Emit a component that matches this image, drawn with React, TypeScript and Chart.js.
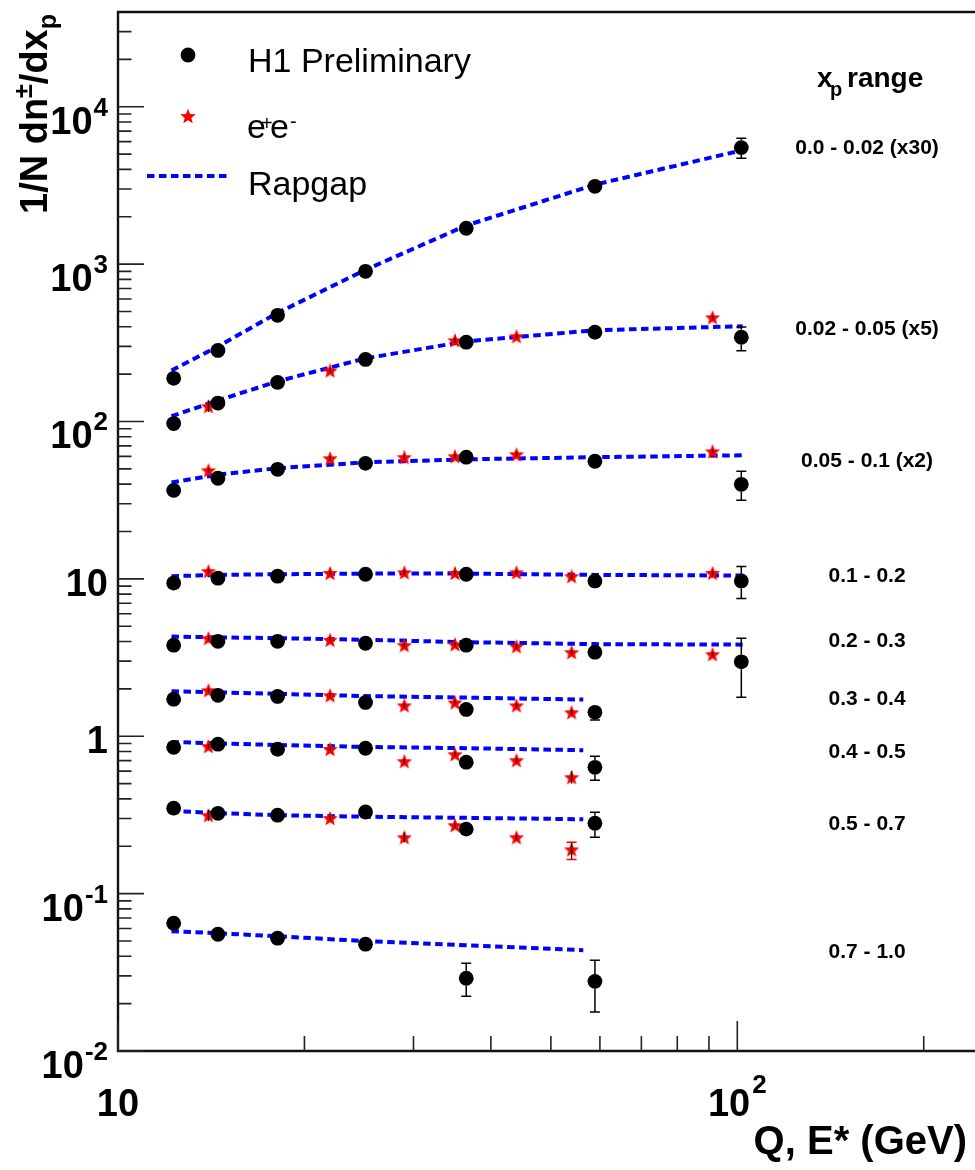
import React, { useEffect, useRef } from "react";
import { Chart, registerables } from "chart.js";
Chart.register(...registerables);

// ---------- data ----------
const h1Q = [12.3, 14.5, 18.1, 25.1, 36.5, 58.9, 101.5];
const eeE = [14, 22, 29, 35, 44, 54, 91.2];
const rapQLong = [12.2, 14.5, 18.1, 25.1, 36.5, 58.9, 102];
const rapQShort = [12.2, 14.5, 18.1, 25.1, 36.5, 56.4];

const binLabels = [
  "0.0 - 0.02 (x30)",
  "0.02 - 0.05 (x5)",
  "0.05 - 0.1 (x2)",
  "0.1 - 0.2",
  "0.2 - 0.3",
  "0.3 - 0.4",
  "0.4 - 0.5",
  "0.5 - 0.7",
  "0.7 - 1.0",
];
const binLabelY = [5500, 390, 56.7, 10.5, 4.07, 1.74, 0.8, 0.28, 0.043];
const binLabelQ = 162;

const h1Values = [
  [188, 283, 473, 900, 1690, 3120, 5500],
  [97, 131, 177, 248, 319, 369, 343],
  [36.5, 43.6, 49.7, 54.2, 59.3, 55.9, 39.9],
  [9.4, 10.1, 10.4, 10.7, 10.7, 9.7, 9.7],
  [3.79, 4.01, 4.01, 3.9, 3.79, 3.42, 2.97],
  [1.72, 1.82, 1.79, 1.64, 1.48, 1.42, null],
  [0.851, 0.89, 0.827, 0.839, 0.684, 0.635, null],
  [0.349, 0.324, 0.315, 0.33, 0.257, 0.28, null],
  [0.0649, 0.0552, 0.0521, 0.0477, 0.029, 0.0277, null],
];
const h1ErrLow = [
  [null, null, null, null, null, null, 4700],
  [null, null, null, null, null, null, 282],
  [null, null, null, null, null, null, 31.6],
  [null, null, null, null, null, null, 7.5],
  [null, null, null, null, null, null, 1.77],
  [null, null, null, null, null, 1.27, null],
  [null, null, null, null, null, 0.526, null],
  [null, null, null, null, null, 0.228, null],
  [null, null, null, null, 0.0223, 0.0177, null],
];
const h1ErrHigh = [
  [null, null, null, null, null, null, 6300],
  [null, null, null, null, null, null, 398],
  [null, null, null, null, null, null, 48.3],
  [null, null, null, null, null, null, 12.0],
  [null, null, null, null, null, null, 4.2],
  [null, null, null, null, null, 1.55, null],
  [null, null, null, null, null, 0.746, null],
  [null, null, null, null, null, 0.329, null],
  [null, null, null, null, 0.0361, 0.0377, null],
];

const eeValues = [
  [null, null, null, null, null, null, null],
  [125, 211, null, 328, 348, null, 459],
  [49, 58.4, 59.3, 60.1, 61.9, null, 64.6],
  [11.2, 10.9, 11.0, 10.9, 11.0, 10.4, 10.9],
  [4.2, 4.1, 3.79, 3.84, 3.73, 3.42, 3.32],
  [1.96, 1.82, 1.57, 1.64, 1.57, 1.42, null],
  [0.864, 0.83, 0.694, 0.768, 0.704, 0.549, null],
  [0.315, 0.302, 0.228, 0.272, 0.228, 0.191, null],
  [null, null, null, null, null, null, null],
];
const eeErrLow = [
  [null, null, null, null, null, null, null],
  [115, 204, null, 318, 337, null, 445],
  [47.5, 56.5, 57.5, 58.3, 60, null, 62.6],
  [10.85, 10.55, 10.65, 10.55, 10.65, 10.05, 10.55],
  [4.07, 3.97, 3.67, 3.72, 3.61, 3.31, 3.22],
  [1.9, 1.76, 1.52, 1.59, 1.52, 1.37, null],
  [0.837, 0.804, 0.672, 0.744, 0.682, 0.5, null],
  [0.29, 0.292, 0.212, 0.263, 0.22, 0.165, null],
  [null, null, null, null, null, null, null],
];
const eeErrHigh = [
  [null, null, null, null, null, null, null],
  [136, 218, null, 338, 359, null, 473],
  [50.5, 60.2, 61.1, 62, 63.8, null, 66.6],
  [11.55, 11.25, 11.35, 11.25, 11.35, 10.75, 11.25],
  [4.33, 4.23, 3.91, 3.96, 3.85, 3.53, 3.42],
  [2.02, 1.88, 1.62, 1.69, 1.62, 1.47, null],
  [0.891, 0.856, 0.716, 0.792, 0.726, 0.6, null],
  [0.34, 0.312, 0.245, 0.281, 0.236, 0.212, null],
  [null, null, null, null, null, null, null],
];

const rapValues = [
  [211, 300, 490, 920, 1760, 3200, 5300],
  [108, 136, 180, 252, 323, 380, 403],
  [41, 46, 50.5, 55, 57.5, 59.3, 61],
  [10.4, 10.6, 10.7, 10.8, 10.8, 10.6, 10.5],
  [4.3, 4.25, 4.2, 4.1, 3.96, 3.85, 3.82],
  [1.93, 1.9, 1.86, 1.8, 1.76, 1.71],
  [0.92, 0.9, 0.88, 0.855, 0.84, 0.815],
  [0.335, 0.325, 0.315, 0.308, 0.303, 0.297],
  [0.0577, 0.056, 0.0536, 0.0499, 0.047, 0.0437],
];

const yTickValues = [0.01, 0.1, 1, 10, 100, 1000, 10000];
const yTickBase = ["10", "10", "1", "10", "10", "10", "10"];
const yTickExp = ["-2", "-1", "", "", "2", "3", "4"];
const xTickValues = [10, 100];
const xTickBase = ["10", "10"];
const xTickExp = ["", "2"];
const xMinorTicks = [20, 30, 40, 50, 60, 70, 80, 90, 200];

// ---------- styling ----------
const FONT = '"Liberation Sans", Arial, Helvetica, sans-serif';
const DOT_R = 7.4;
const STAR_R = 8;
const STAR_IN = 3.5;

function starPath(ctx: CanvasRenderingContext2D, x: number, y: number, R: number, r: number) {
  ctx.beginPath();
  for (let i = 0; i < 10; i++) {
    const rad = i % 2 === 0 ? R : r;
    const a = -Math.PI / 2 + (i * Math.PI) / 5;
    ctx.lineTo(x + rad * Math.cos(a), y + 0.8 + rad * Math.sin(a));
  }
  ctx.closePath();
}

function makeStar(R: number, r: number, color: string) {
  const c = document.createElement("canvas");
  const s = Math.ceil(R * 2 + 2);
  c.width = s;
  c.height = s;
  const g = c.getContext("2d")!;
  starPath(g, s / 2, s / 2, R, r);
  g.fillStyle = color;
  g.fill();
  return c;
}

const decorPlugin = {
  id: "decor",
  afterDatasetsDraw(chart: any) {
    const ctx: CanvasRenderingContext2D = chart.ctx;
    const xs = chart.scales.x;
    const ys = chart.scales.y;
    ctx.save();
    ctx.strokeStyle = "#000";
    ctx.lineWidth = 1.5;
    h1Values.forEach((vals, i) => {
      vals.forEach((v, j) => {
        const lo = h1ErrLow[i][j];
        const hi = h1ErrHigh[i][j];
        if (v == null || lo == null || hi == null) return;
        const x = xs.getPixelForValue(h1Q[j]);
        const yc = ys.getPixelForValue(v);
        const yh = ys.getPixelForValue(hi);
        const yl = ys.getPixelForValue(lo);
        ctx.beginPath();
        if (yc - yh > DOT_R) {
          ctx.moveTo(x, yc - DOT_R);
          ctx.lineTo(x, yh);
          ctx.moveTo(x - 5, yh);
          ctx.lineTo(x + 5, yh);
        }
        if (yl - yc > DOT_R) {
          ctx.moveTo(x, yc + DOT_R);
          ctx.lineTo(x, yl);
          ctx.moveTo(x - 5, yl);
          ctx.lineTo(x + 5, yl);
        }
        ctx.stroke();
      });
    });
    eeValues.forEach((vals, i) => {
      vals.forEach((v, j) => {
        const lo = eeErrLow[i][j];
        const hi = eeErrHigh[i][j];
        if (v == null || lo == null || hi == null) return;
        const x = xs.getPixelForValue(eeE[j]);
        const yc = ys.getPixelForValue(v);
        const yh = ys.getPixelForValue(hi);
        const yl = ys.getPixelForValue(lo);
        ctx.strokeStyle = "#000";
        ctx.lineWidth = 1.3;
        ctx.beginPath();
        ctx.moveTo(x, yh);
        ctx.lineTo(x, yl);
        ctx.stroke();
        ctx.strokeStyle = "#ff0000";
        ctx.lineWidth = 1.5;
        ctx.beginPath();
        if (yc - yh > STAR_R - 1) {
          ctx.moveTo(x - 5, yh);
          ctx.lineTo(x + 5, yh);
        }
        if (yl - yc > STAR_R - 1) {
          ctx.moveTo(x - 5, yl);
          ctx.lineTo(x + 5, yl);
        }
        ctx.stroke();
      });
    });
    ctx.restore();
  },
  afterDraw(chart: any) {
    const ctx: CanvasRenderingContext2D = chart.ctx;
    const xs = chart.scales.x;
    const ys = chart.scales.y;
    const a = chart.chartArea;
    const W = chart.width;
    ctx.save();
    // frame
    ctx.strokeStyle = "#111";
    ctx.lineWidth = 2.4;
    ctx.beginPath();
    ctx.moveTo(W + 5, a.top);
    ctx.lineTo(a.left, a.top);
    ctx.lineTo(a.left, a.bottom);
    ctx.lineTo(W + 5, a.bottom);
    ctx.stroke();
    // ticks
    ctx.lineWidth = 1.6;
    ctx.strokeStyle = "#222";
    ctx.beginPath();
    for (let d = -2; d <= 4; d++) {
      for (let k = 1; k <= 9; k++) {
        const v = k * Math.pow(10, d);
        if (v >= 40000) continue;
        const y = ys.getPixelForValue(v);
        const len = k === 1 ? 26 : 13.5;
        ctx.moveTo(a.left, y);
        ctx.lineTo(a.left + len, y);
      }
    }
    xTickValues.forEach((v) => {
      const x = xs.getPixelForValue(v);
      ctx.moveTo(x, a.bottom);
      ctx.lineTo(x, a.bottom - 30);
    });
    xMinorTicks.forEach((v) => {
      const x = xs.getPixelForValue(v);
      ctx.moveTo(x, a.bottom);
      ctx.lineTo(x, a.bottom - 15);
    });
    ctx.stroke();

    ctx.fillStyle = "#000";
    const BASE = "bold 38px " + FONT;
    const EXP = "bold 26px " + FONT;
    yTickValues.forEach((v, i) => {
      const y = ys.getPixelForValue(v);
      const exp = yTickExp[i];
      ctx.textAlign = "right";
      ctx.textBaseline = "alphabetic";
      if (exp) {
        ctx.font = EXP;
        const we = ctx.measureText(exp).width;
        ctx.fillText(exp, 108, y + 9);
        ctx.font = BASE;
        ctx.fillText(yTickBase[i], 108 - we - 1, y + 27);
      } else {
        ctx.font = BASE;
        ctx.fillText(yTickBase[i], 108, y + 17);
      }
    });
    xTickValues.forEach((v, i) => {
      const x = xs.getPixelForValue(v);
      const exp = xTickExp[i];
      ctx.textAlign = "left";
      ctx.font = BASE;
      const wb = ctx.measureText(xTickBase[i]).width;
      ctx.font = EXP;
      const we = exp ? ctx.measureText(exp).width + 2 : 0;
      const x0 = x - (wb + we) / 2;
      ctx.font = BASE;
      ctx.fillText(xTickBase[i], x0, 1116);
      if (exp) {
        ctx.font = EXP;
        ctx.fillText(exp, x0 + wb + 2, 1093);
      }
    });
    // x axis title
    ctx.font = "bold 40px " + FONT;
    ctx.textAlign = "right";
    ctx.fillText("Q, E* (GeV)", 967, 1154);

    // y axis title (rotated)
    ctx.save();
    ctx.translate(47, 214);
    ctx.rotate(-Math.PI / 2);
    ctx.textAlign = "left";
    let px = 0;
    ctx.font = "bold 38px " + FONT;
    ctx.fillText("1/N dn", px, 0);
    px += ctx.measureText("1/N dn").width;
    ctx.font = "bold 25px " + FONT;
    ctx.fillText("\u00b1", px, -15);
    px += ctx.measureText("\u00b1").width;
    ctx.font = "bold 38px " + FONT;
    ctx.fillText("/dx", px, 0);
    px += ctx.measureText("/dx").width;
    ctx.font = "bold 25px " + FONT;
    ctx.fillText("p", px, 9);
    ctx.restore();

    // x_p range header
    ctx.textAlign = "left";
    ctx.font = "bold 28px " + FONT;
    ctx.fillText("x", 817, 87);
    ctx.font = "bold 20px " + FONT;
    ctx.fillText("p", 830, 96);
    ctx.font = "bold 28px " + FONT;
    ctx.fillText("range", 847, 87);

    // bin labels
    ctx.font = "bold 21px " + FONT;
    ctx.textAlign = "center";
    ctx.textBaseline = "middle";
    const lx = xs.getPixelForValue(binLabelQ);
    binLabels.forEach((t, i) => {
      ctx.fillText(t, lx, ys.getPixelForValue(binLabelY[i]) + 1);
    });

    // legend
    ctx.textBaseline = "alphabetic";
    ctx.textAlign = "left";
    ctx.fillStyle = "#000";
    ctx.beginPath();
    ctx.arc(188, 55, DOT_R, 0, Math.PI * 2);
    ctx.fill();
    ctx.font = "34px " + FONT;
    ctx.fillText("H1 Preliminary", 248, 72);

    ctx.fillStyle = "#ff0000";
    starPath(ctx, 188, 116, STAR_R, STAR_IN);
    ctx.fill();
    ctx.fillStyle = "#000";
    ctx.font = "34px " + FONT;
    ctx.fillText("e", 247, 138);
    ctx.font = "20px " + FONT;
    ctx.fillText("+", 261, 130);
    ctx.font = "34px " + FONT;
    ctx.fillText("e", 270, 138);
    ctx.font = "20px " + FONT;
    ctx.fillText("-", 290, 128);

    ctx.strokeStyle = "#0000ff";
    ctx.lineWidth = 4;
    ctx.setLineDash([7.5, 4.5]);
    ctx.beginPath();
    ctx.moveTo(147, 176);
    ctx.lineTo(231, 176);
    ctx.stroke();
    ctx.setLineDash([]);
    ctx.font = "34px " + FONT;
    ctx.fillText("Rapgap", 248, 195);

    ctx.restore();
  },
};

export default function App() {
  const ref = useRef<HTMLCanvasElement | null>(null);
  useEffect(() => {
    if (!ref.current) return;
    const star = makeStar(STAR_R, STAR_IN, "#ff0000");
    const datasets: any[] = [];
    rapValues.forEach((vals, i) => {
      const qs = vals.length === rapQLong.length ? rapQLong : rapQShort;
      datasets.push({
        label: "Rapgap " + binLabels[i],
        data: vals.map((v, j) => ({ x: qs[j], y: v })),
        showLine: true,
        borderColor: "#0000ff",
        borderWidth: 4,
        borderDash: [7.5, 4.5],
        borderCapStyle: "butt",
        pointRadius: 0,
        fill: false,
        tension: 0,
        order: 3,
      });
    });
    eeValues.forEach((vals, i) => {
      const pts = vals
        .map((v, j) => (v == null ? null : { x: eeE[j], y: v }))
        .filter((p) => p !== null);
      if (!pts.length) return;
      datasets.push({
        label: "e+e- " + binLabels[i],
        data: pts,
        pointStyle: star,
        pointRadius: STAR_R,
        backgroundColor: "#ff0000",
        borderColor: "#ff0000",
        showLine: false,
        order: 2,
      });
    });
    h1Values.forEach((vals, i) => {
      const pts = vals
        .map((v, j) => (v == null ? null : { x: h1Q[j], y: v }))
        .filter((p) => p !== null);
      datasets.push({
        label: "H1 " + binLabels[i],
        data: pts,
        pointStyle: "circle",
        pointRadius: DOT_R,
        pointBorderWidth: 0,
        backgroundColor: "#000",
        borderColor: "#000",
        showLine: false,
        order: 1,
      });
    });
    const chart = new Chart(ref.current, {
      type: "scatter",
      data: { datasets },
      options: {
        responsive: false,
        animation: false,
        devicePixelRatio: 1,
        layout: { autoPadding: false, padding: { left: 118, top: 12, right: 0, bottom: 119 } },
        plugins: { legend: { display: false }, tooltip: { enabled: false } },
        scales: {
          x: { type: "logarithmic", min: 10, max: 242, display: false },
          y: { type: "logarithmic", min: 0.01, max: 40000, display: false },
        },
      },
      plugins: [decorPlugin],
    } as any);
    return () => chart.destroy();
  }, []);
  return (
    <div style={{ position: "absolute", left: 0, top: 0, width: 975, height: 1170, overflow: "hidden", background: "#fff" }}>
      <canvas ref={ref} width={975} height={1170} style={{ display: "block", width: 975, height: 1170 }} />
    </div>
  );
}
